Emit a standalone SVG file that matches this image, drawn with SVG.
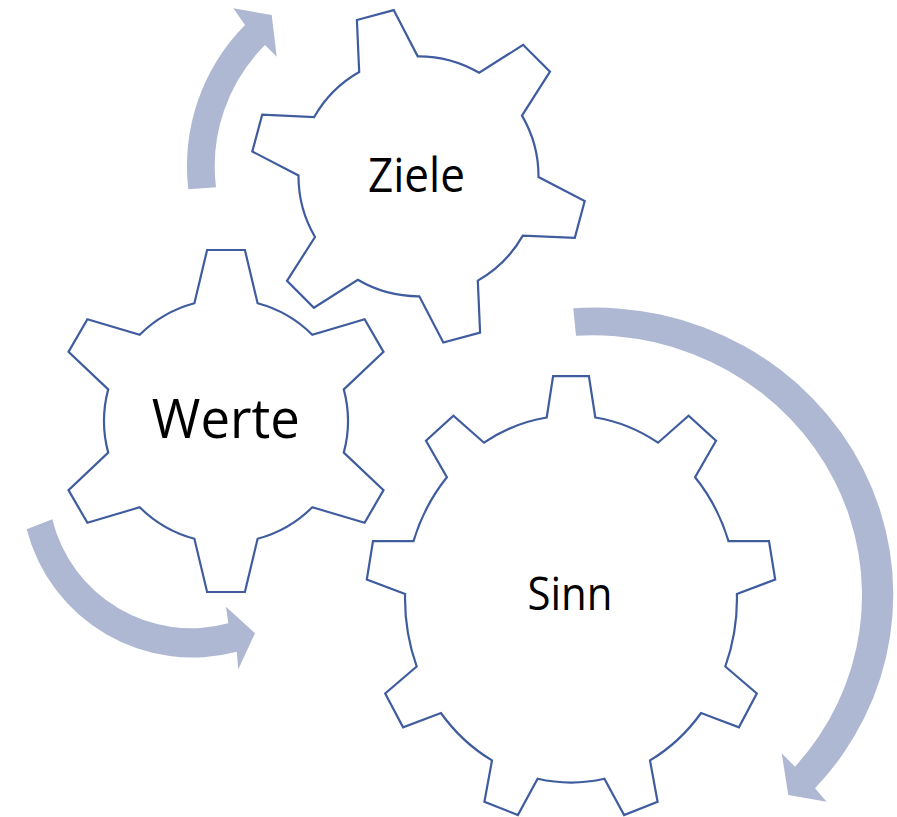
<svg xmlns="http://www.w3.org/2000/svg" width="897" height="817" viewBox="0 0 897 817">
<style>
.gear{fill:#FFFFFF;stroke:#3F5C9F;stroke-width:2.2;stroke-linejoin:miter}
.arrow{fill:#AFB8D3;stroke:none}
.lbl{font-family:"Open Sans","Noto Sans","Liberation Sans",sans-serif;fill:#000000;text-anchor:middle}
</style>
<rect width="897" height="817" fill="#FFFFFF"/>
<g id="connectors">
<path id="arrow-top" class="arrow" d="M188.3,189.3 A200,200 0 0 1 245,25 L233.3,8.3 L271.7,15 L276.7,56.7 L265,45 A171.5,171.5 0 0 0 216,187.3 Z"/>
<path id="arrow-left" class="arrow" d="M26.7,529.3 A171,171 0 0 0 236.7,651.7 L238.3,669.3 L255,633.3 L226,606.7 L228.3,623.3 A143,143 0 0 1 52.3,519.3 Z"/>
<path id="arrow-right" class="arrow" d="M573.3,308.3 A298.5,287 0 0 1 815,788.3 L826.7,801.7 L788.3,795 L781.7,753.3 L795,766.7 A270,260 0 0 0 576,335.7 Z"/>
</g>
<g id="gear-ziele">
<path class="gear" d="M359.2,72.0 L356.9,20.0 L393.7,10.1 L417.7,56.3 A120,120 0 0 1 479.2,72.8 L523.1,44.8 L550.0,71.7 L522.0,115.6 A120,120 0 0 1 538.5,177.1 L584.7,201.1 L574.8,237.9 L522.8,235.6 A120,120 0 0 1 477.8,280.6 L480.1,332.6 L443.3,342.5 L419.3,296.3 A120,120 0 0 1 357.8,279.8 L313.9,307.8 L287.0,280.9 L315.0,237.0 A120,120 0 0 1 298.5,175.5 L252.3,151.5 L262.2,114.7 L314.2,117.0 A120,120 0 0 1 359.2,72.0 Z"/>
<text class="lbl" x="416.5" y="191.7" font-size="47" textLength="97" lengthAdjust="spacingAndGlyphs">Ziele</text>
</g>
<g id="gear-werte">
<path class="gear" d="M194.4,303.2 L207.1,250 L244.9,250 L257.6,303.2 A122,122 0 0 1 312.3,334.7 L364.6,319.2 L383.5,351.9 L343.8,389.4 A122,122 0 0 1 343.8,452.6 L383.5,490.1 L364.6,522.8 L312.3,507.3 A122,122 0 0 1 257.6,538.8 L244.9,592 L207.1,592 L194.4,538.8 A122,122 0 0 1 139.7,507.3 L87.4,522.8 L68.5,490.1 L108.2,452.6 A122,122 0 0 1 108.2,389.4 L68.5,351.9 L87.4,319.2 L139.7,334.7 A122,122 0 0 1 194.4,303.2 Z"/>
<text class="lbl" x="225.8" y="438.3" font-size="54" textLength="148" lengthAdjust="spacingAndGlyphs">Werte</text>
</g>
<g id="gear-sinn">
<path class="gear" d="M546.7,417.5 L553.1,376.1 L588.9,376.1 L595.3,417.5 A166,183.5 0 0 1 658.0,442.7 L688.6,415.7 L716.0,440.8 L695.1,477.2 A166,183.5 0 0 1 728.5,541.1 L769.0,541.1 L775.2,579.5 L736.9,593.9 A166,183.5 0 0 1 725.3,666.5 L756.8,693.5 L738.9,727.3 L701.1,713.0 A166,183.5 0 0 1 650.0,760.4 L657.6,801.7 L624.1,815.1 L604.4,778.8 A166,183.5 0 0 1 537.6,778.8 L517.9,815.1 L484.4,801.7 L492.0,760.4 A166,183.5 0 0 1 440.9,713.0 L403.1,727.3 L385.2,693.5 L416.7,666.5 A166,183.5 0 0 1 405.1,593.9 L366.8,579.5 L373.0,541.1 L413.5,541.1 A166,183.5 0 0 1 446.9,477.2 L426.0,440.8 L453.4,415.7 L484.0,442.7 A166,183.5 0 0 1 546.7,417.5 Z"/>
<text class="lbl" x="570" y="610.3" font-size="45" textLength="85" lengthAdjust="spacingAndGlyphs">Sinn</text>
</g>
</svg>
